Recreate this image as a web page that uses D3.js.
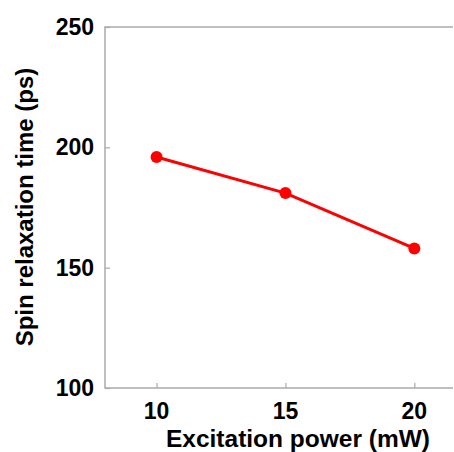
<!DOCTYPE html>
<html>
<head>
<meta charset="utf-8">
<script src="https://cdn.jsdelivr.net/npm/d3@7"></script>
<style>
  body { margin: 0; background: #fff; }
  text { font-family: "Liberation Sans", Arial, sans-serif; font-weight: bold; fill: #000; }
</style>
</head>
<body>
<svg width="454" height="452"></svg>
<script>
// data
const power = [10, 15, 20];            // mW
const relaxTime = [196, 181, 158];     // ps
const xTicks = [10, 15, 20];
const yTicks = [100, 150, 200, 250];

const svg = d3.select('svg');
const plotLeft = 105, plotRight = 453, plotTop = 27, plotBottom = 388;

const x = d3.scaleLinear().domain([8, 21.5]).range([plotLeft, plotRight]);
const y = d3.scaleLinear().domain([100, 250]).range([plotBottom, plotTop]);

const axisColor = '#aaa';

// frame lines (top, left, bottom)
svg.append('path')
  .attr('d', `M${plotRight},${plotTop}H${plotLeft}V${plotBottom}H${plotRight}`)
  .attr('fill', 'none')
  .attr('stroke', axisColor)
  .attr('stroke-width', 1.5);

// y axis ticks + labels
const yAxis = svg.append('g')
  .attr('transform', `translate(${plotLeft},0)`)
  .call(d3.axisRight(y).tickValues(yTicks).tickSize(5).tickFormat(''));
yAxis.select('.domain').remove();
yAxis.selectAll('line').attr('stroke', axisColor).attr('stroke-width', 1.2);

svg.append('g').selectAll('text')
  .data(yTicks)
  .join('text')
  .attr('x', 94)
  .attr('y', (d) => y(d) + 8)
  .attr('text-anchor', 'end')
  .attr('font-size', 23)
  .text((d) => d);

// x axis ticks + labels
const xAxis = svg.append('g')
  .attr('transform', `translate(0,${plotBottom})`)
  .call(d3.axisTop(x).tickValues(xTicks).tickSize(5).tickFormat(''));
xAxis.select('.domain').remove();
xAxis.selectAll('line').attr('stroke', axisColor).attr('stroke-width', 1.2);

svg.append('g').selectAll('text')
  .data(xTicks)
  .join('text')
  .attr('x', (d) => x(d))
  .attr('y', 419)
  .attr('text-anchor', 'middle')
  .attr('font-size', 23)
  .text((d) => d);

// axis titles
svg.append('text')
  .attr('x', 298)
  .attr('y', 447)
  .attr('text-anchor', 'middle')
  .attr('font-size', 24.5)
  .text('Excitation power (mW)');

svg.append('text')
  .attr('transform', 'translate(33,207) rotate(-90)')
  .attr('text-anchor', 'middle')
  .attr('font-size', 24)
  .text('Spin relaxation time (ps)');

// series
const pts = power.map((p, i) => [p, relaxTime[i]]);
const line = d3.line().x((d) => x(d[0])).y((d) => y(d[1]));

svg.append('path')
  .datum(pts)
  .attr('d', line)
  .attr('fill', 'none')
  .attr('stroke', '#ff0000')
  .attr('stroke-width', 3);

svg.append('g').selectAll('circle')
  .data(pts)
  .join('circle')
  .attr('cx', (d) => x(d[0]))
  .attr('cy', (d) => y(d[1]))
  .attr('r', 6)
  .attr('fill', '#ff0000');
</script>
</body>
</html>
